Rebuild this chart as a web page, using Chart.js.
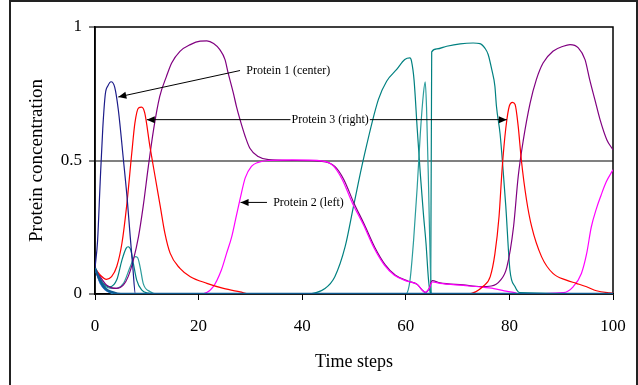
<!DOCTYPE html>
<html>
<head>
<meta charset="utf-8">
<script src="https://cdn.jsdelivr.net/npm/chart.js@4.4.1/dist/chart.umd.min.js"></script>
<style>
body { margin: 0; background: #fff; }
</style>
</head>
<body>
<canvas id="c" width="638" height="385"></canvas>
<script>
// time steps + concentration, one pair of arrays per curve
const navyT = [0, 0.5, 1.0, 1.5, 2.0, 2.5, 3.1, 3.8, 4.5, 5.5, 6.2, 6.8, 7.3, 7.8, 100];
const navyV = [0.096, 0.2, 0.42, 0.62, 0.75, 0.78, 0.795, 0.775, 0.69, 0.50, 0.36, 0.215, 0.10, 0, 0];

const redT = [0, 1, 2.2, 3.2, 4.2, 5.2, 6.1, 7.1, 7.7, 8.4, 9.0, 9.6, 10.6, 11.6, 12.6, 13.5, 14.5, 16.4, 18.4, 21.6, 24.8, 28, 30,
  72, 75, 76.3, 77.2, 78, 78.6, 79.3, 80, 80.6, 81.1, 81.7, 82.3, 83.3, 84.3, 86.2, 88.4, 91, 92.9, 94.9, 96.8, 99.4, 100];
const redV = [0.096, 0.071, 0.055, 0.065, 0.103, 0.19, 0.328, 0.528, 0.64, 0.697, 0.70, 0.678, 0.553, 0.44, 0.328, 0.227, 0.153, 0.096, 0.065, 0.04, 0.021, 0.008, 0,
  0, 0.03, 0.065, 0.15, 0.29, 0.47, 0.62, 0.705, 0.718, 0.71, 0.628, 0.503, 0.353, 0.252, 0.14, 0.077, 0.052, 0.04, 0.027, 0.012, 0.004, 0.003];

const purpleT = [0, 0.6, 2.2, 4.2, 5.5, 6.4, 7.4, 8.4, 9.3, 10.3, 11.3, 12.5, 13.8, 14.8, 16.4, 18.4, 20.3, 21.6, 22.9, 24.1, 25.1, 25.7, 26.7, 27.3, 28.0, 29.0, 29.9, 31.5, 33.5, 38, 43.8,
  46.3, 48, 50, 52, 54, 56, 58, 60.5, 62.2, 63.3, 63.8, 64.5, 65.1, 66.6, 71.1, 74.5, 76.5, 78.2, 79.5, 80.8, 81.7, 82.7, 84.0, 85.2, 86.5, 88.4, 90.4, 91.7, 93.3, 94.6, 95.5, 96.5, 97.5, 98.8, 100];
const purpleV = [0.096, 0.077, 0.034, 0.021, 0.034, 0.065, 0.127, 0.215, 0.328, 0.478, 0.615, 0.74, 0.815, 0.865, 0.909, 0.934, 0.947, 0.948, 0.938, 0.915, 0.878, 0.828, 0.753, 0.703, 0.653, 0.59, 0.546, 0.515, 0.503, 0.50, 0.497,
  0.478, 0.43, 0.34, 0.26, 0.175, 0.11, 0.07, 0.048, 0.036, 0.012, 0.006, 0.02, 0.05, 0.042, 0.034, 0.028, 0.03, 0.05, 0.10, 0.252, 0.44, 0.578, 0.715, 0.803, 0.865, 0.909, 0.928, 0.934, 0.922, 0.878, 0.803, 0.728, 0.653, 0.578, 0.54];

const magentaT = [0, 1, 2, 3.5, 5, 20.3, 22.8, 24.4, 25.4, 26.4, 27.2, 28.0, 29.0, 30.2, 31.5, 33.5, 38, 44,
  46, 47.7, 49.7, 51.8, 53.8, 55.8, 57.8, 60.3, 62.2, 63.3, 63.8, 64.5, 65.1, 66.6, 71.1, 74.5, 77, 79, 81, 82, 90.4, 92.3, 93.9, 94.9, 95.8, 96.8, 97.7, 98.7, 100];
const magentaV = [0.096, 0.04, 0.015, 0.003, 0, 0, 0.027, 0.09, 0.152, 0.215, 0.285, 0.355, 0.435, 0.478, 0.493, 0.5, 0.502, 0.498,
  0.48, 0.43, 0.34, 0.26, 0.175, 0.11, 0.07, 0.048, 0.036, 0.012, 0.006, 0.02, 0.045, 0.04, 0.032, 0.026, 0.02, 0.012, 0.005, 0, 0.005, 0.027, 0.077, 0.15, 0.25, 0.32, 0.37, 0.42, 0.465];

const tealT = [0, 1.6, 2.9, 4.2, 5.2, 6.0, 6.4, 6.9, 7.4, 8.05, 9.0, 10.3, 11.5, 40.5, 44.4, 46.3, 48.3, 49.9, 51.8, 54.7, 56.3, 58.2, 59.8, 60.8, 61.1,
  61.6, 62.2, 62.8, 63.4, 63.9, 64.4, 64.8, 65.0, 66.0, 67.9, 70.5, 73.0, 74.3, 75.3, 75.9, 76.6, 77.2, 77.5, 78.2, 78.8, 79.3, 80.1, 81.1, 82.0, 100];
const tealV = [0.096, 0.04, 0.027, 0.053, 0.127, 0.171, 0.177, 0.165, 0.115, 0.052, 0.015, 0.003, 0, 0, 0.021, 0.065, 0.178, 0.328, 0.503, 0.728, 0.797, 0.84, 0.878, 0.884, 0.872,
  0.8, 0.62, 0.45, 0.3, 0.19, 0.05, 0, 0.907, 0.918, 0.928, 0.937, 0.94, 0.938, 0.92, 0.897, 0.84, 0.778, 0.703, 0.6, 0.46, 0.33, 0.09, 0.027, 0.005, 0];

const teal2T = [0, 1.6, 3.5, 5.5, 6.8, 7.7, 8.2, 8.7, 9.3, 10.6, 12, 60, 60.8, 61.5, 62.2, 62.8, 63.4, 63.75, 64.0, 64.4, 64.8, 65.0, 100];
const teal2V = [0.096, 0.035, 0.021, 0.04, 0.102, 0.14, 0.137, 0.102, 0.04, 0.009, 0, 0, 0.05, 0.2, 0.4, 0.6, 0.75, 0.795, 0.7, 0.4, 0.05, 0, 0];

const cyanT = [0, 1, 2, 3, 4, 100];
const cyanV = [0.096, 0.04, 0.015, 0.005, 0, 0];

const blueT = [0, 1, 2, 3.5, 5, 100];
const blueV = [0.096, 0.05, 0.02, 0.006, 0, 0];

const xTicks = [0, 20, 40, 60, 80, 100];
const yTicks = [0, 0.5, 1];

function pts(ts, vs) {
    return ts.map((t, i) => ({x: t, y: vs[i]}));
}
function line(data, color, w) {
    return {data: data, borderColor: color, borderWidth: w || 1.2, pointRadius: 0,
        fill: false, cubicInterpolationMode: 'monotone'};
}

const serif = "'Liberation Serif', 'Times New Roman', serif";

function arrow(ctx, x1, y1, x2, y2) {
    ctx.beginPath();
    ctx.moveTo(x1, y1);
    ctx.lineTo(x2, y2);
    ctx.stroke();
    let a = Math.atan2(y2 - y1, x2 - x1);
    ctx.beginPath();
    ctx.moveTo(x2, y2);
    ctx.lineTo(x2 - 8 * Math.cos(a) + 3.5 * Math.sin(a), y2 - 8 * Math.sin(a) - 3.5 * Math.cos(a));
    ctx.lineTo(x2 - 8 * Math.cos(a) - 3.5 * Math.sin(a), y2 - 8 * Math.sin(a) + 3.5 * Math.cos(a));
    ctx.closePath();
    ctx.fill();
}

const framePlugin = {
    id: 'frame',
    beforeDraw(chart) {
        let ctx = chart.ctx;
        ctx.save();
        ctx.fillStyle = '#fff';
        ctx.fillRect(0, 0, chart.width, chart.height);
        ctx.strokeStyle = '#222';
        ctx.lineWidth = 2;
        ctx.strokeRect(10, 1, 627, 400);
        ctx.restore();
    },
    beforeDatasetsDraw(chart) {
        let ctx = chart.ctx, a = chart.chartArea;
        ctx.save();
        ctx.strokeStyle = '#000';
        ctx.lineWidth = 1.5;
        ctx.strokeRect(a.left, a.top, a.right - a.left, a.bottom - a.top);
        ctx.restore();
    },
    afterDatasetsDraw(chart) {
        let ctx = chart.ctx, x = chart.scales.x, y = chart.scales.y;
        ctx.save();
        ctx.strokeStyle = '#000';
        ctx.fillStyle = '#000';
        ctx.lineWidth = 1;
        ctx.font = '12px ' + serif;
        ctx.textBaseline = 'middle';

        // Protein 1 (center)
        let y1 = y.getPixelForValue(0.837);
        arrow(ctx, x.getPixelForValue(28.0), y1, x.getPixelForValue(4.5), y.getPixelForValue(0.738));
        ctx.textAlign = 'left';
        ctx.fillText('Protein 1 (center)', x.getPixelForValue(29.2), y1);

        // Protein 3 (right)
        let y3 = y.getPixelForValue(0.653);
        let cx = x.getPixelForValue(45.4);
        let w3 = ctx.measureText('Protein 3 (right)').width;
        arrow(ctx, cx - w3 / 2 - 1, y3, x.getPixelForValue(10.0), y3);
        arrow(ctx, cx + w3 / 2 + 1, y3, x.getPixelForValue(79.5), y3);
        ctx.textAlign = 'center';
        ctx.fillText('Protein 3 (right)', cx, y3);

        // Protein 2 (left)
        let y2 = y.getPixelForValue(0.343);
        arrow(ctx, x.getPixelForValue(33.2), y2, x.getPixelForValue(28.1), y2);
        ctx.textAlign = 'left';
        ctx.fillText('Protein 2 (left)', x.getPixelForValue(34.4), y2);
        ctx.restore();
    }
};

new Chart(document.getElementById('c').getContext('2d'), {
    type: 'line',
    data: {
        datasets: [
            line(pts(blueT, blueV), '#0f5b92', 2.6),
            line(pts(cyanT, cyanV), '#19b5e6'),
            line(pts(navyT, navyV), '#1c1c8a'),
            line(pts(redT, redV), '#ff0000'),
            line(pts(magentaT, magentaV), '#ff00ff'),
            line(pts(purpleT, purpleV), '#800080'),
            line(pts(teal2T, teal2V), '#2b9c9c'),
            line(pts(tealT, tealV), '#008080')
        ]
    },
    options: {
        responsive: false,
        animation: false,
        layout: {padding: {top: 27, right: 25, left: 0, bottom: 0}},
        plugins: {legend: {display: false}, tooltip: {enabled: false}},
        scales: {
            x: {
                type: 'linear',
                min: 0, max: 100,
                afterFit(s) { s.height = 91; s.paddingLeft = 0; s.paddingRight = 0; },
                afterBuildTicks(s) { s.ticks = xTicks.map(v => ({value: v})); },
                grid: {drawOnChartArea: false, tickColor: '#000', tickLength: 6},
                border: {color: '#000', width: 1.5},
                ticks: {color: '#000', padding: 16, maxRotation: 0, font: {family: serif, size: 17}},
                title: {display: true, text: 'Time steps', color: '#000', padding: {top: 0, bottom: 12},
                    font: {family: serif, size: 18}}
            },
            y: {
                min: 0, max: 1,
                afterFit(s) { s.width = 95; },
                afterBuildTicks(s) { s.ticks = yTicks.map(v => ({value: v})); },
                grid: {
                    color: c => (c.tick && c.tick.value === 0.5) ? '#808080' : 'rgba(0,0,0,0)',
                    lineWidth: 2, tickColor: '#000', tickWidth: 1, tickLength: 6
                },
                border: {color: '#000', width: 1.5},
                ticks: {color: '#000', padding: 7, font: {family: serif, size: 17},
                    callback: v => String(v)},
                title: {display: true, text: 'Protein concentration', color: '#000', padding: {top: 26, bottom: 0},
                    font: {family: serif, size: 19}}
            }
        }
    },
    plugins: [framePlugin]
});
</script>
</body>
</html>
